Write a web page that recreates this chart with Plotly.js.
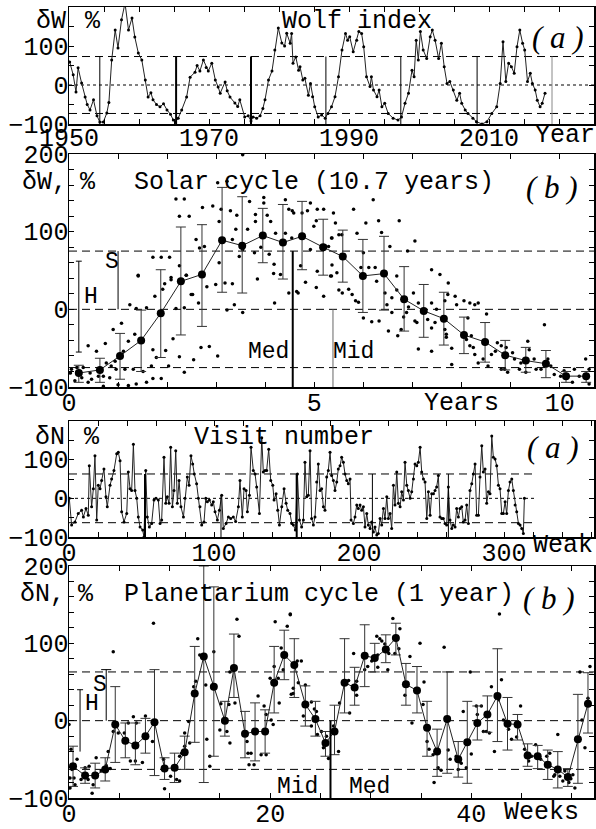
<!DOCTYPE html>
<html><head><meta charset="utf-8">
<script src="https://cdn.plot.ly/plotly-3.0.1.min.js"></script>
<style>html,body{margin:0;padding:0;background:#fff;}#chart{width:596px;height:829px;}</style>
</head><body><div id="chart"></div>
<script>
// ---------- Panel 1: Wolf index ----------
const wolfYears = [1950.1,1950.6,1951.0,1951.3,1951.8,1952.3,1952.6,1953.0,1953.5,1954.0,1954.4,1954.9,1955.4,1955.7,1956.1,1956.6,1957.0,1957.5,1958.0,1958.5,1959.0,1959.4,1959.9,1960.4,1960.9,1961.3,1961.7,1962.0,1962.5,1963.0,1963.5,1964.0,1964.5,1964.9,1965.2,1965.6,1966.1,1966.8,1967.3,1968.0,1968.3,1968.7,1969.2,1969.6,1969.9,1970.4,1970.9,1971.3,1971.6,1972.3,1972.6,1973.0,1973.7,1974.1,1974.4,1975.1,1975.6,1976.0,1976.3,1976.8,1977.3,1977.7,1978.0,1978.5,1979.0,1979.4,1979.9,1980.4,1980.8,1981.1,1981.6,1981.8,1982.0,1982.4,1982.8,1983.0,1983.4,1983.7,1984.2,1984.5,1984.8,1985.1,1985.6,1986.1,1986.6,1987.0,1987.5,1988.0,1988.5,1989.0,1989.5,1989.8,1990.1,1990.6,1991.1,1991.4,1991.8,1992.1,1992.5,1993.0,1993.2,1993.5,1994.0,1994.3,1994.7,1995.1,1995.6,1996.3,1997.0,1997.5,1998.0,1998.5,1999.0,1999.3,1999.6,1999.9,2000.2,2000.6,2001.1,2001.6,2001.9,2002.3,2002.8,2003.2,2003.6,2004.0,2004.4,2004.9,2005.4,2005.8,2006.1,2006.6,2007.0,2007.7,2008.2,2009.0,2009.7,2010.4,2011.1,2011.6,2012.0,2012.4,2012.8,2013.2,2013.6,2014.0,2014.4,2014.8,2015.1,2015.5,2015.9,2016.2,2016.6,2016.9,2017.3,2017.6,2018.0];
const wolfValues = [59,26,-18,44,5,-31,-50,-64,-38,-79,-95,-95,-72,-45,64,141,95,167,210,141,172,123,82,64,13,-31,-20,-38,-50,-56,-48,-64,-75,-90,-95,-85,-64,-31,20,33,50,36,64,45,36,56,13,-5,-21,8,-15,-31,-46,-55,-38,-82,-79,-92,-82,-85,-79,-60,-38,13,36,90,146,108,100,133,107,132,56,72,38,47,13,17,-26,4,-30,-56,-82,-77,-85,-73,-56,-30,21,90,132,115,124,85,115,137,132,98,21,-4,21,-13,-30,-13,-56,-47,-73,-85,-90,-82,-47,-21,38,21,115,64,137,90,68,124,141,115,68,107,47,4,9,-13,-39,-21,-47,-64,-73,-85,-94,-100,-94,-73,-56,4,111,9,56,47,30,98,141,107,90,9,30,4,-13,-39,-56,-47,-21];
const wolfMinima = [1954.4,1965.3,1976.0,1986.7,1997.4,2008.3,2019.0];
const wolfBand = 73;

// ---------- Panel 2: solar cycle (folded) ----------
const solarPhase = [0.20,0.63,1.04,1.47,1.87,2.28,2.71,3.12,3.53,3.95,4.36,4.75,5.18,5.58,5.99,6.42,6.83,7.23,7.64,8.05,8.48,8.89,9.31,9.72,10.13,10.54];
const solarMean = [-82,-78,-60,-40,-5,36,45,89,82,95,86,94,80,68,43,46,13,-2,-12,-33,-42,-59,-66,-70,-86,-86];
const solarHi = [-72,-63,-31,-1,51,106,109,157,145,130,135,139,116,102,90,94,55,32,22,-10,-17,-40,-49,-53,-80,-80];
const solarLo = [-94,-94,-90,-80,-62,-33,-22,22,21,60,39,51,44,35,-4,-1,-28,-36,-46,-57,-68,-78,-81,-88,-94,-94];
const solarDotT = [3.54,3.03,3.22,2.18,2.35,2.25,2.45,2.72,2.93,3.10,3.29,3.42,1.71,1.88,2.05,1.41,2.08,2.25,2.39,2.59,2.66,2.76,3.06,3.06,3.47,3.54,3.33,3.40,3.64,3.68,3.80,3.80,3.97,3.97,4.04,4.11,4.08,3.78,3.91,4.18,4.41,4.48,4.58,4.21,4.41,4.54,
4.55,4.75,4.92,4.86,5.06,5.19,5.39,5.80,6.20,6.05,6.31,6.73,4.99,5.04,5.43,5.36,5.50,5.56,5.87,6.00,6.37,6.54,6.90,7.05,7.39,7.56,4.92,5.22,5.29,5.35,4.72,5.06,5.36,5.35,5.95,6.11,6.24,6.68,5.46,5.19,
1.41,1.24,1.37,1.58,1.75,1.91,1.95,2.08,2.39,2.49,2.52,2.64,2.81,2.99,3.18,3.33,3.37,3.54,3.22,2.18,2.35,3.84,4.19,4.17,4.31,4.48,4.64,2.12,1.71,1.97,1.78,2.25,2.69,2.86,3.03,2.54,2.35,2.03,1.68,0.90,1.07,1.34,1.21,1.11,0.94,1.14,1.31,1.51,1.71,1.88,1.37,1.21,1.58,0.39,0.56,0.74,0.76,0.86,0.96,0.70,0.60,0.46,0.26,0.39,0.12,0.03,0.70,1.00,0.29,0.05,0.16,0.43,0.83,
4.67,4.82,5.04,5.19,5.33,5.50,5.57,5.70,5.77,5.84,5.90,6.00,6.17,6.32,6.27,6.44,6.48,6.58,6.58,6.68,6.51,6.70,6.77,6.82,6.88,6.92,7.02,7.12,7.05,7.09,7.12,7.39,7.39,7.46,7.49,7.31,7.39,7.66,7.73,7.72,7.87,7.90,7.66,7.69,7.69,7.80,7.80,8.17,8.27,8.34,8.05,8.13,8.20,8.10,8.17,8.24,8.27,8.34,8.51,8.61,8.73,8.69,8.81,8.91,8.88,8.94,9.04,9.08,9.18,9.35,9.38,9.48,9.52,9.69,9.76,9.82,9.89,10.09,10.16,10.26,10.30,10.40,10.53,10.60,10.60,8.81,8.54,8.44,9.21,9.31,9.62,10.02];
const solarDotV = [199,163,165,142,142,120,120,131,133,129,127,121,67,67,67,44,41,56,44,90,79,81,113,60,68,77,90,103,103,139,122,113,137,144,121,113,71,73,80,58,141,129,124,98,98,92,
127,124,137,127,129,129,124,129,141,111,114,114,107,114,111,92,96,96,98,73,99,81,75,88,51,45,77,82,81,92,56,49,57,43,54,54,54,43,47,77,
43,6,1,2,17,26,33,38,44,19,19,8,29,32,34,33,6,-4,-1,1,2,39,8,46,45,21,23,-38,-52,-53,-62,-61,-49,-48,-60,-65,-81,-73,-73,-26,-18,-32,-41,-54,-67,-77,-77,-80,-89,-89,-96,-98,-94,-47,-54,-44,-69,-73,-77,-86,-86,-90,-88,-94,-92,-82,-99,-97,-75,-77,-75,-82,-88,
21,35,28,17,43,25,21,26,19,11,9,-11,-16,-15,36,21,6,15,-4,25,-28,-34,-26,-10,-4,3,21,8,-15,-17,-51,8,-24,-17,0,-13,-54,11,34,19,17,6,-26,-32,-36,-50,-71,8,6,8,11,-11,-34,-39,-47,-49,-58,-69,-6,-58,-43,-54,-47,-49,-77,-81,-56,-64,-77,-41,-52,-64,-77,-20,-64,-73,-84,-79,-86,-94,-77,-86,-64,-77,-96,-77,-73,-64,-69,-81,-77,-86];
const solarH = {t:0.2, lo:-55, hi:62};
const solarS = {t:1.0, lo:0, hi:75};
const solarMed = {t:4.56, hi:75};
const solarMid = {t:5.38, hi:0};
const solarBand = 75;

// ---------- Panel 3: visit number ----------
const visitWeek = [0.2,1.8,4.1,6.4,8.7,9.9,11.7,13.3,14.0,15.6,16.8,17.9,19.1,20.2,21.4,22.5,24.1,25.5,26.4,28.3,29.4,31.0,32.9,34.0,35.2,36.3,37.9,39.8,40.9,42.1,43.2,44.4,45.5,46.7,47.8,49.0,50.8,51.7,52.9,54.0,55.4,57.0,58.6,60.0,61.6,62.8,63.9,65.5,66.7,67.8,69.0,70.1,71.3,72.4,73.6,74.7,75.9,77.2,78.9,80.0,81.6,82.8,84.1,85.3,86.4,88.0,89.2,90.3,91.5,93.1,94.3,95.4,96.8,98.4,99.5,100.7,102.3,103.7,105.3,106.4,108.3,109.9,111.5,113.3,114.9,116.8,117.9,119.5,120.7,122.1,123.0,124.4,125.5,127.1,128.3,129.4,131.3,132.9,134.0,135.2,136.3,137.7,139.1,140.5,141.4,142.8,143.9,145.1,146.7,148.3,149.7,150.8,152.4,153.6,154.7,156.1,157.5,158.9,
160.4,161.6,162.7,163.9,165.0,166.2,167.3,168.5,169.6,170.8,171.9,173.1,174.2,175.4,176.5,177.7,178.8,180.0,181.1,182.3,183.4,184.6,185.7,186.9,188.0,189.2,190.3,191.5,192.6,193.8,194.5,196.1,197.2,198.4,199.5,200.7,201.8,203.0,204.1,205.3,206.4,207.6,208.7,209.9,211.0,212.2,213.3,214.5,215.6,216.8,217.9,219.1,220.2,221.4,222.5,223.7,224.8,226.0,227.1,228.3,229.4,230.6,231.7,232.9,234.0,235.2,236.3,237.5,238.6,239.8,240.9,242.1,243.2,244.4,245.5,246.7,247.8,249.0,250.1,251.3,252.4,253.5,254.7,255.8,257.0,258.1,259.3,260.4,261.6,262.7,263.9,265.0,266.2,267.3,268.5,269.6,270.8,271.9,273.1,274.2,275.4,276.5,277.7,278.8,280.0,281.1,282.3,283.4,284.6,285.7,286.9,288.0,289.2,290.3,291.5,292.6,293.8,294.9,296.1,297.2,298.4,299.5,300.7,301.8,303.0,304.1,305.3,306.4,307.6,308.7,309.9,311.0,312.2,313.3,314.0];
const visitValue = [0,-69,-61,-39,-31,-48,-26,-44,84,-22,25,110,-56,34,25,46,76,4,-22,34,50,72,115,119,97,-35,-61,-39,68,25,20,140,20,0,-48,-74,-82,-100,72,-48,-74,-65,-4,0,-4,-65,-56,106,-13,4,-13,132,-22,20,123,-13,46,-22,-48,0,55,34,110,89,63,38,0,-22,-69,-61,0,-9,-4,-17,-9,-35,-56,-31,8,-78,-65,-48,-52,-48,-60,-22,46,-48,25,20,-35,8,132,72,63,29,-39,157,68,72,72,127,46,34,-4,12,-31,-69,-22,25,-13,-31,-39,-65,-69,-82,63,-56,
-74,-56,93,4,8,123,-52,-69,-48,42,89,20,25,-22,-31,55,72,119,59,46,20,42,76,84,106,93,63,46,38,50,-56,-65,-48,-17,-26,-17,-31,-22,-74,-39,-69,-78,-61,-87,-74,-95,-91,-52,-69,-26,-52,4,-52,-39,-78,34,-17,68,-13,-22,17,-4,93,34,20,0,17,50,89,84,93,132,68,50,42,-52,17,-44,12,12,20,29,59,-48,-52,-52,-65,-69,29,-56,-78,-69,-74,-26,-48,-26,-22,-61,-56,-17,-65,20,38,63,89,-44,-44,55,136,68,76,-13,17,12,161,106,102,84,34,25,-39,-39,-9,-39,20,42,50,20,-17,-35,-65,-69,-78,-91,0];
const visitMarkers = [52.4,104.8,157.0,209.2,261.6];
const visitMarkerTop = [63,8,63,63,63];
const visitBand = 63;
const visitBandEnd = 321;

// ---------- Panel 4: planetarium cycle (folded) ----------
const planetWeek = [0.4,1.6,2.6,3.6,4.6,5.6,6.6,7.6,8.5,9.5,10.5,11.5,12.5,13.4,14.4,15.5,16.4,17.5,18.5,19.5,20.4,21.4,22.4,23.5,24.5,25.5,26.4,27.4,28.4,29.4,30.4,31.5,32.5,33.5,34.6,35.6,36.6,37.6,38.7,39.6,40.6,41.6,42.6,43.6,44.6,45.6,46.6,47.6,48.6,49.6,50.6,51.6];
const planetMean = [-59,-71,-71,-63,-5,-26,-32,-20,-2,-62,-61,-41,35,83,44,0,68,-17,-14,-14,49,85,72,21,2,-29,-14,49,43,84,81,92,107,47,39,-9,-40,2,-50,-28,-3,8,32,-4,-5,-45,-46,-57,-63,-73,-24,22];
const planetHi = [-33,-61,-55,-48,44,-3,-3,3,66,-48,-42,-20,96,200,173,25,112,12,23,14,96,117,106,45,25,-14,20,106,69,124,100,111,126,74,70,25,-11,63,-27,25,19,32,93,30,8,-30,-32,-38,-40,-62,34,62];
const planetLo = [-85,-81,-87,-78,-54,-48,-57,-42,-71,-76,-80,-63,-28,-80,-46,-20,30,-48,-52,-42,10,53,30,-7,-20,-46,-44,10,20,44,63,75,85,20,10,-46,-72,-68,-73,-81,-25,-15,-27,-38,-25,-59,-62,-76,-87,-85,-81,-16];
const planetDotW = [4.4,8.4,12.8,13.0,12.4,12.6,14.4,13.6,16.0,16.7,16.9,20.5,20.4,21.1,21.3,21.7,22.0,20.8,22.7,22.3,20.0,
22.0,23.1,22.8,23.5,28.3,27.8,28.6,29.4,29.7,30.1,30.6,30.9,31.1,30.7,30.7,31.7,31.4,31.8,32.2,32.9,32.8,32.4,33.9,34.9,35.3,37.3,39.9,42.8,42.0,43.0,50.8,51.8,
0.0,0.2,0.3,0.1,0.5,0.6,0.1,0.8,1.2,1.6,2.0,2.4,2.3,1.9,2.7,3.2,3.7,3.9,4.1,4.4,4.9,5.5,5.9,6.1,6.6,6.7,7.3,6.4,7.6,8.3,9.4,9.5,10.1,10.7,11.0,11.2,11.5,11.0,11.5,12.0,11.9,13.7,14.0,14.0,15.0,15.1,15.7,16.0,15.9,16.5,17.7,17.8,18.1,17.9,18.4,18.8,19.4,19.6,19.1,19.6,20.1,20.3,20.9,22.1,22.3,
23.3,24.1,24.4,24.1,24.7,24.6,25.1,25.3,25.6,25.8,26.3,26.8,26.9,27.9,28.6,33.4,34.1,35.2,35.6,35.8,36.2,36.3,36.7,37.0,37.7,37.9,38.5,38.7,39.0,39.2,39.5,40.0,40.5,40.6,41.0,41.2,41.5,41.8,42.3,42.7,43.2,43.7,44.0,44.5,44.9,45.3,45.7,46.0,46.4,46.9,47.5,47.8,48.2,48.3,48.6,48.8,49.1,49.3,49.7,49.9,50.1,50.3,51.0,51.3,51.6];
const planetDotV = [89,126,106,85,44,51,89,46,63,131,109,128,70,94,66,122,137,55,77,42,55,
138,77,49,46,87,52,51,66,70,77,109,106,103,69,85,66,99,87,132,119,93,87,83,100,50,95,63,138,44,53,63,70,
-5,-37,-63,-74,-74,-83,-87,-50,-76,-61,-59,-83,-94,-76,-48,-65,-58,-40,-62,-14,-16,-16,-3,-52,-52,-3,-54,5,6,-27,-50,-88,-72,-76,-78,-42,-33,-46,-16,-29,-1,-24,-46,-59,-12,22,-14,-29,21,23,-27,-42,-42,-57,-57,32,19,8,-44,-44,1,-5,23,34,35,
6,24,15,-7,-18,12,-14,-35,-20,-49,-7,-40,23,10,33,33,-3,21,-27,-37,-44,-80,-61,-64,-38,-50,-46,-63,-55,12,-61,-43,19,8,19,-14,-14,-16,-40,27,1,-11,-24,-21,19,-37,-52,-46,-31,-50,-46,-42,-72,-70,-18,-72,-78,-65,-80,-75,-70,-87,1,-35,29];
const planetH = {w:1.1, lo:-40, hi:40};
const planetS = {w:3.7, lo:0, hi:66};
const planetMedMid = {w:26.0, hi:0};
const planetBand = 63;

// ---------- Layout helpers ----------
const FONT = 'Liberation Mono, Courier New, monospace';
const SERIF = 'Liberation Serif, Times New Roman, serif';
const L = 69, R = 594, T = 7, B = 798, W = 596, H = 829;
function px(xp){return (xp - L)/(R - L);}
function py(yp){return (B - yp)/(B - T);}
function ann(xp, yp, text, o){
  o = o || {};
  return Object.assign({xref:'paper', yref:'paper', x:px(xp), y:py(yp), text:text, showarrow:false,
    xanchor:'center', yanchor:'middle', font:{family:FONT, size:25, color:'#000'}}, o);
}
function range(a,b,s){const r=[];for(let v=a;v<=b+1e-9;v+=s)r.push(+v.toFixed(6));return r;}
function lbl(vals, show){return vals.map(v => show.includes(v) ? String(v).replace('-', '\u2212') : '');}
const axBase = {showline:true, linecolor:'#000', linewidth:1.5, mirror:'ticks', ticks:'inside', ticklen:5,
  tickwidth:1, tickcolor:'#000', showgrid:false, zeroline:false, fixedrange:true,
  tickfont:{family:FONT, size:25, color:'#000'}, tickmode:'array'};
const xBase = Object.assign({}, axBase, {ticklabelstandoff:-8});
const yBase = Object.assign({}, axBase, {ticklabelstandoff:-6});

const x1t = range(1950,2025,5), x2t = range(0,10,1), x3t = range(0,360,20), x4t = range(0,50,5);
const y50 = range(-100,200,50), y20 = range(-100,200,20);

const layout = {
  width:W, height:H, margin:{l:L, r:W-R, t:T, b:H-B}, showlegend:false,
  paper_bgcolor:'#fff', plot_bgcolor:'#fff',
  xaxis:Object.assign({}, xBase, {domain:[0,1], anchor:'y', range:[1950,2025], tickvals:x1t, ticktext:lbl(x1t,[1950,1970,1990,2010]), ticklabelstandoff:-10}),
  yaxis:Object.assign({}, yBase, {domain:[py(124),1], anchor:'x', range:[-100,200], tickvals:y50, ticktext:lbl(y50,[-100,0,100])}),
  xaxis2:Object.assign({}, xBase, {domain:[0,1], anchor:'y2', range:[0,10.7], tickvals:x2t, ticktext:lbl(x2t,[0,5,10])}),
  yaxis2:Object.assign({}, yBase, {domain:[py(387),py(154)], anchor:'x2', range:[-100,200], tickvals:y20, ticktext:lbl(y20,[-100,0,100,200])}),
  xaxis3:Object.assign({}, xBase, {domain:[0,1], anchor:'y3', range:[0,362], tickvals:x3t, ticktext:lbl(x3t,[0,100,200,300])}),
  yaxis3:Object.assign({}, yBase, {domain:[py(537),py(421)], anchor:'x3', range:[-100,200], tickvals:y50, ticktext:lbl(y50,[-100,0,100])}),
  xaxis4:Object.assign({}, xBase, {domain:[0,1], anchor:'y4', range:[0,52.2], tickvals:x4t, ticktext:lbl(x4t,[0,20,40])}),
  yaxis4:Object.assign({}, yBase, {domain:[0,py(566)], anchor:'x4', range:[-100,200], tickvals:y20, ticktext:lbl(y20,[-100,0,100,200])}),
  shapes:[], annotations:[]
};

const S = layout.shapes;
function hline(ax, yv, dash, x0, x1){
  const full = (x0===undefined);
  S.push({type:'line', xref: full ? ax+' domain' : ax, x0: full?0:x0, x1: full?1:x1,
    yref: ax.replace('x','y'), y0:yv, y1:yv, line:{color:'#000', width:1, dash:dash}, layer:'below'});
}
function vline(ax, xv, y0, y1, color, width){
  S.push({type:'line', xref:ax, x0:xv, x1:xv, yref:ax.replace('x','y'), y0:y0, y1:y1, line:{color:color||'#000', width:width||1}});
}
function cap(ax, xv, yv, half){
  S.push({type:'line', xref:ax, x0:xv-half, x1:xv+half, yref:ax.replace('x','y'), y0:yv, y1:yv, line:{color:'#000', width:1}});
}
const LONG = '8px,5px', SHORT = '3px,3px';

// panel 1 guides
hline('x', wolfBand, LONG); hline('x', -wolfBand, LONG); hline('x', 0, SHORT);
wolfMinima.forEach((m,i) => vline('x', m, -100, wolfBand, i===6 ? '#888' : '#000', (i===1||i===2) ? 2 : 1));
// panel 2 guides
hline('x2', solarBand, LONG); hline('x2', -solarBand, LONG); hline('x2', 0, LONG);
vline('x2', solarH.t, solarH.lo, solarH.hi); cap('x2', solarH.t, solarH.lo, 0.06); cap('x2', solarH.t, solarH.hi, 0.06);
vline('x2', solarS.t, solarS.lo, solarS.hi);
vline('x2', solarMed.t, -100, solarMed.hi, '#000', 2);
vline('x2', solarMid.t, -100, solarMid.hi, '#666', 1);
// panel 3 guides
hline('x3', visitBand, LONG, 0, visitBandEnd); hline('x3', -visitBand, LONG, 0, visitBandEnd); hline('x3', 0, SHORT, 0, visitBandEnd);
visitMarkers.forEach((m,i) => vline('x3', m, -100, visitMarkerTop[i], '#000', (i===0||i===2) ? 2 : 1));
// panel 4 guides
hline('x4', planetBand, LONG); hline('x4', -planetBand, LONG); hline('x4', 0, LONG);
vline('x4', planetH.w, planetH.lo, planetH.hi); cap('x4', planetH.w, planetH.hi, 0.3);
vline('x4', planetS.w, planetS.lo, planetS.hi); cap('x4', planetS.w, planetS.hi, 0.5);
vline('x4', planetMedMid.w, -100, planetMedMid.hi, '#000', 2);

// text
const A = layout.annotations;
const IT = {font:{family:SERIF, size:31, color:'#000'}};
const SM = {font:{family:FONT, size:23, color:'#000'}};
A.push(ann(51,22,'\u03b4W'), ann(93,22,'%'), ann(357,22,'Wolf index'), ann(558,37,'<i>( a )</i>', IT), ann(565,135,'Year'));
A.push(ann(20,183,'\u03b4W,',{xanchor:'left'}), ann(88,183,'%'), ann(314,183,'Solar cycle (10.7 years)'), ann(552,187,'<i>( b )</i>', IT), ann(461,403,'Years'));
A.push(ann(112,262,'S',SM), ann(91,297,'H',SM), ann(268,352,'Med',SM), ann(353,352,'Mid',SM));
A.push(ann(50,438,'\u03b4N'), ann(92,438,'%'), ann(284,438,'Visit number'), ann(553,447,'<i>( a )</i>', IT), ann(563,545,'Weak'));
A.push(ann(18,594,'\u03b4N,',{xanchor:'left'}), ann(86,594,'%'), ann(319,594,'Planetarium cycle (1 year)'), ann(549,598,'<i>( b )</i>', IT), ann(541,812,'Weeks'));
A.push(ann(100,685,'S',SM), ann(92,704,'H',SM), ann(297,787,'Mid',SM), ann(369,787,'Med',SM));

function errs(mean, hi, lo){
  return {type:'data', symmetric:false, array:hi.map((h,i)=>h-mean[i]), arrayminus:mean.map((m,i)=>m-lo[i]),
    color:'#333', thickness:1, width:5};
}
const data = [
  {x:wolfYears, y:wolfValues, xaxis:'x', yaxis:'y', type:'scatter', mode:'lines+markers',
   line:{color:'#222', width:1}, marker:{size:3, color:'#000'}},
  {x:solarDotT, y:solarDotV, xaxis:'x2', yaxis:'y2', type:'scatter', mode:'markers', marker:{size:3.5, color:'#000'}},
  {x:solarPhase, y:solarMean, xaxis:'x2', yaxis:'y2', type:'scatter', mode:'lines+markers',
   line:{color:'#222', width:1}, marker:{size:8, color:'#000'}, error_y:errs(solarMean, solarHi, solarLo)},
  {x:visitWeek, y:visitValue, xaxis:'x3', yaxis:'y3', type:'scatter', mode:'lines+markers',
   line:{color:'#222', width:1}, marker:{size:3, color:'#000'}},
  {x:planetDotW, y:planetDotV, xaxis:'x4', yaxis:'y4', type:'scatter', mode:'markers', marker:{size:3.5, color:'#000'}},
  {x:planetWeek, y:planetMean, xaxis:'x4', yaxis:'y4', type:'scatter', mode:'lines+markers',
   line:{color:'#222', width:1}, marker:{size:8, color:'#000'}, error_y:errs(planetMean, planetHi, planetLo)}
];
Plotly.newPlot('chart', data, layout, {displayModeBar:false, staticPlot:true});
</script></body></html>
